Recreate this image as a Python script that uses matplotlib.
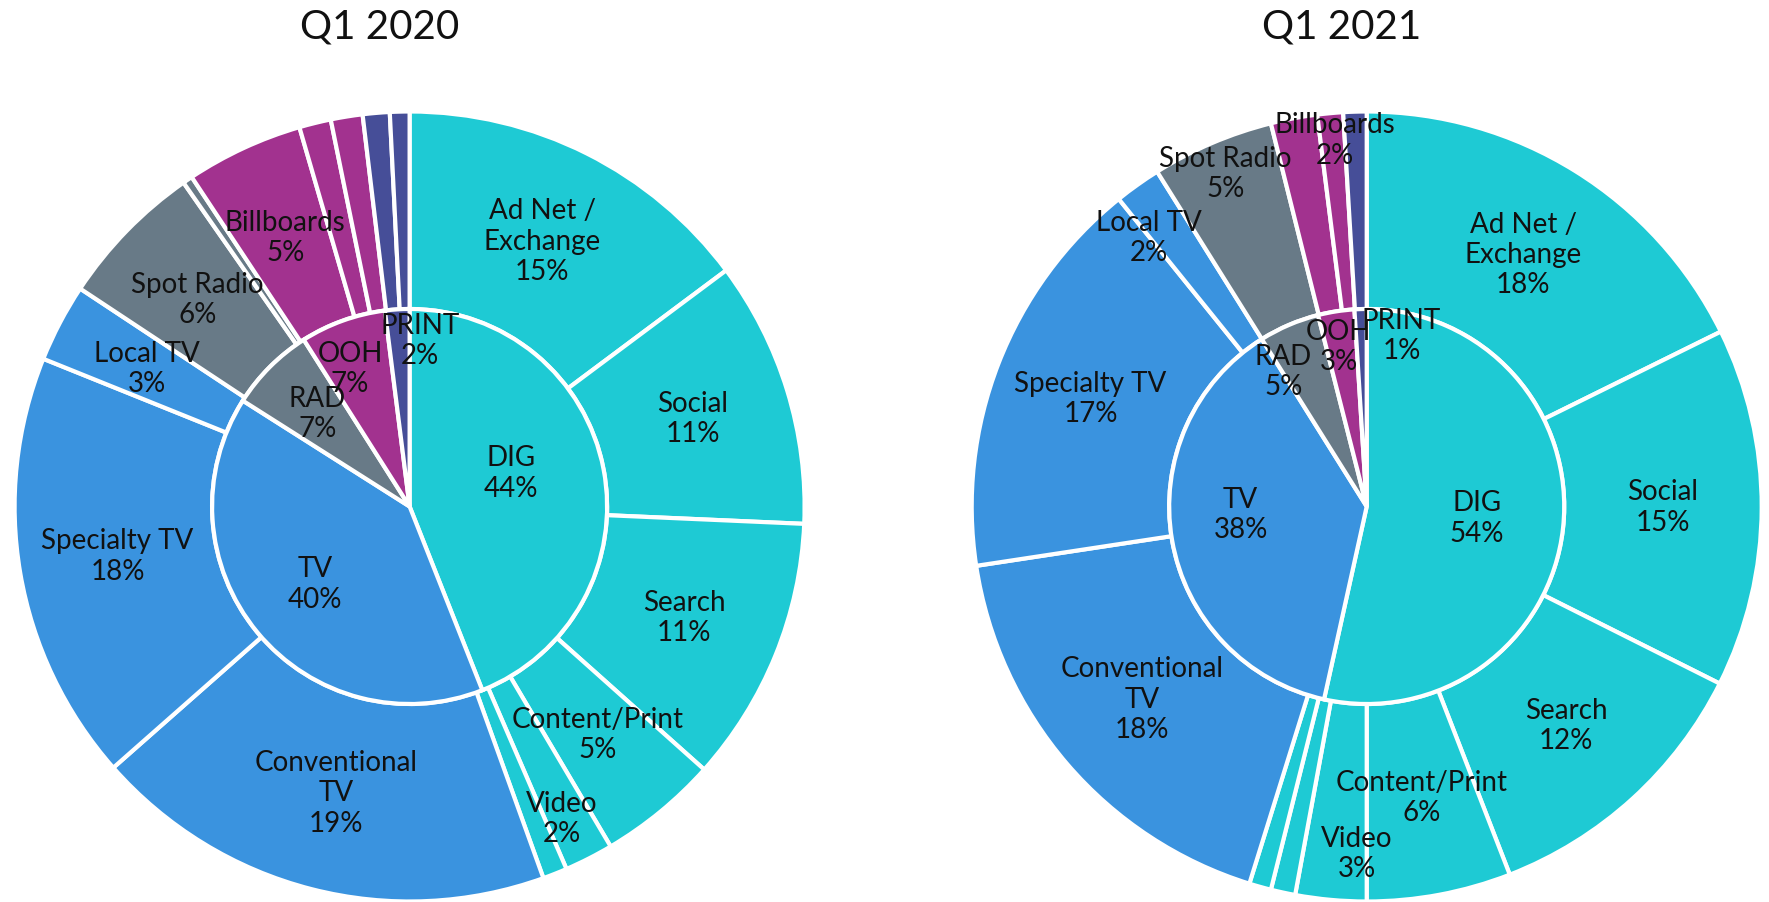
import numpy as np
import matplotlib.pyplot as plt

plt.rcParams['font.family'] = ['Lato', 'DejaVu Sans']

# inner ring (channel share, %)
channels = ['DIG', 'TV', 'RAD', 'OOH', 'PRINT']
inner_2020 = [44, 40, 7, 7, 2]
inner_2021 = [54, 38, 5, 3, 1]

# outer ring (sub-channel share, %), blank name = unlabelled slice
sub_2020 = ['Ad Net /\nExchange', 'Social', 'Search', 'Content/Print', 'Video', '',
            'Conventional\nTV', 'Specialty TV', 'Local TV',
            'Spot Radio', '',
            'Billboards', '', '',
            '', '']
parent_2020 = ['DIG'] * 6 + ['TV'] * 3 + ['RAD'] * 2 + ['OOH'] * 3 + ['PRINT'] * 2
outer_2020 = [14.8, 10.9, 10.9, 4.9, 2.0, 1.0,
              19.0, 17.6, 3.2,
              6.0, 0.4,
              4.8, 1.3, 1.3,
              1.1, 0.8]

sub_2021 = ['Ad Net /\nExchange', 'Social', 'Search', 'Content/Print', 'Video', '', '',
            'Conventional\nTV', 'Specialty TV', 'Local TV',
            'Spot Radio',
            'Billboards', '',
            '']
parent_2021 = ['DIG'] * 7 + ['TV'] * 3 + ['RAD'] + ['OOH'] * 2 + ['PRINT']
outer_2021 = [17.7, 14.7, 11.7, 5.9, 2.9, 1.0, 0.9,
              17.8, 16.6, 1.9,
              5.0,
              1.9, 1.05,
              0.95]

colors = {'DIG': '#1ecad4', 'TV': '#3a93df', 'RAD': '#687a87',
          'OOH': '#a2328f', 'PRINT': '#464e98'}

# label placement tweaks: name -> (radius, shift in % of circle, clockwise)
inner_tweak_2020 = {'DIG': (0.27, -2.0), 'TV': (0.31, 0), 'RAD': (0.33, 0),
                    'OOH': (0.38, -1.0), 'PRINT': (0.42, 2.0)}
inner_tweak_2021 = {'DIG': (0.28, 0), 'TV': (0.32, 1.7), 'RAD': (0.40, -2.4),
                    'OOH': (0.41, -0.3), 'PRINT': (0.44, 3.7)}
outer_tweak_2020 = {'Video': (0.88, 0.3)}
outer_tweak_2021 = {'Video': (0.88, -1.0), 'Local TV': (0.875, -1.0),
                    'Spot Radio': (0.915, 0), 'Billboards': (0.93, 1.55)}

TXT = '#111111'
FS = 20


def place(ax, theta1, theta2, r, shift, text):
    mid = np.deg2rad((theta1 + theta2) / 2 - shift * 3.6)
    ax.text(r * np.cos(mid), r * np.sin(mid), text, ha='center', va='center',
            fontsize=FS, color=TXT, linespacing=1.2)


def sunburst(ax, inner, outer, subs, parents, inner_tweak, outer_tweak):
    wp = dict(edgecolor='white', linewidth=3.0)
    ow, _ = ax.pie(outer, radius=1.0, startangle=90, counterclock=False,
                   colors=[colors[p] for p in parents],
                   wedgeprops=dict(width=0.5, **wp))
    iw, _ = ax.pie(inner, radius=0.5, startangle=90, counterclock=False,
                   colors=[colors[c] for c in channels], wedgeprops=wp)
    for w, name, v in zip(iw, channels, inner):
        r, s = inner_tweak[name]
        place(ax, w.theta1, w.theta2, r, s, f'{name}\n{v}%')
    for w, name, v in zip(ow, subs, outer):
        if not name:
            continue
        r, s = outer_tweak.get(name, (0.75, 0))
        place(ax, w.theta1, w.theta2, r, s, f'{name}\n{v:.0f}%')
    ax.set_xlim(-1, 1)
    ax.set_ylim(-1, 1)
    ax.set_aspect('equal')
    ax.axis('off')


fig = plt.figure(figsize=(17.69, 9.02), dpi=100)
W, H = 1769, 902
R = 395
for cx, cy, inner, outer, subs, parents, it, ot in [
        (409.6, 506.5, inner_2020, outer_2020, sub_2020, parent_2020, inner_tweak_2020, outer_tweak_2020),
        (1366.7, 506.5, inner_2021, outer_2021, sub_2021, parent_2021, inner_tweak_2021, outer_tweak_2021)]:
    ax = fig.add_axes([(cx - R) / W, (H - cy - R) / H, 2 * R / W, 2 * R / H])
    sunburst(ax, inner, outer, subs, parents, it, ot)

fig.text(380 / W, 1 - 27.5 / H, 'Q1 2020', ha='center', va='center', fontsize=29, color=TXT)
fig.text(1342 / W, 1 - 27.5 / H, 'Q1 2021', ha='center', va='center', fontsize=29, color=TXT)

fig.savefig('out.png', dpi=100)
